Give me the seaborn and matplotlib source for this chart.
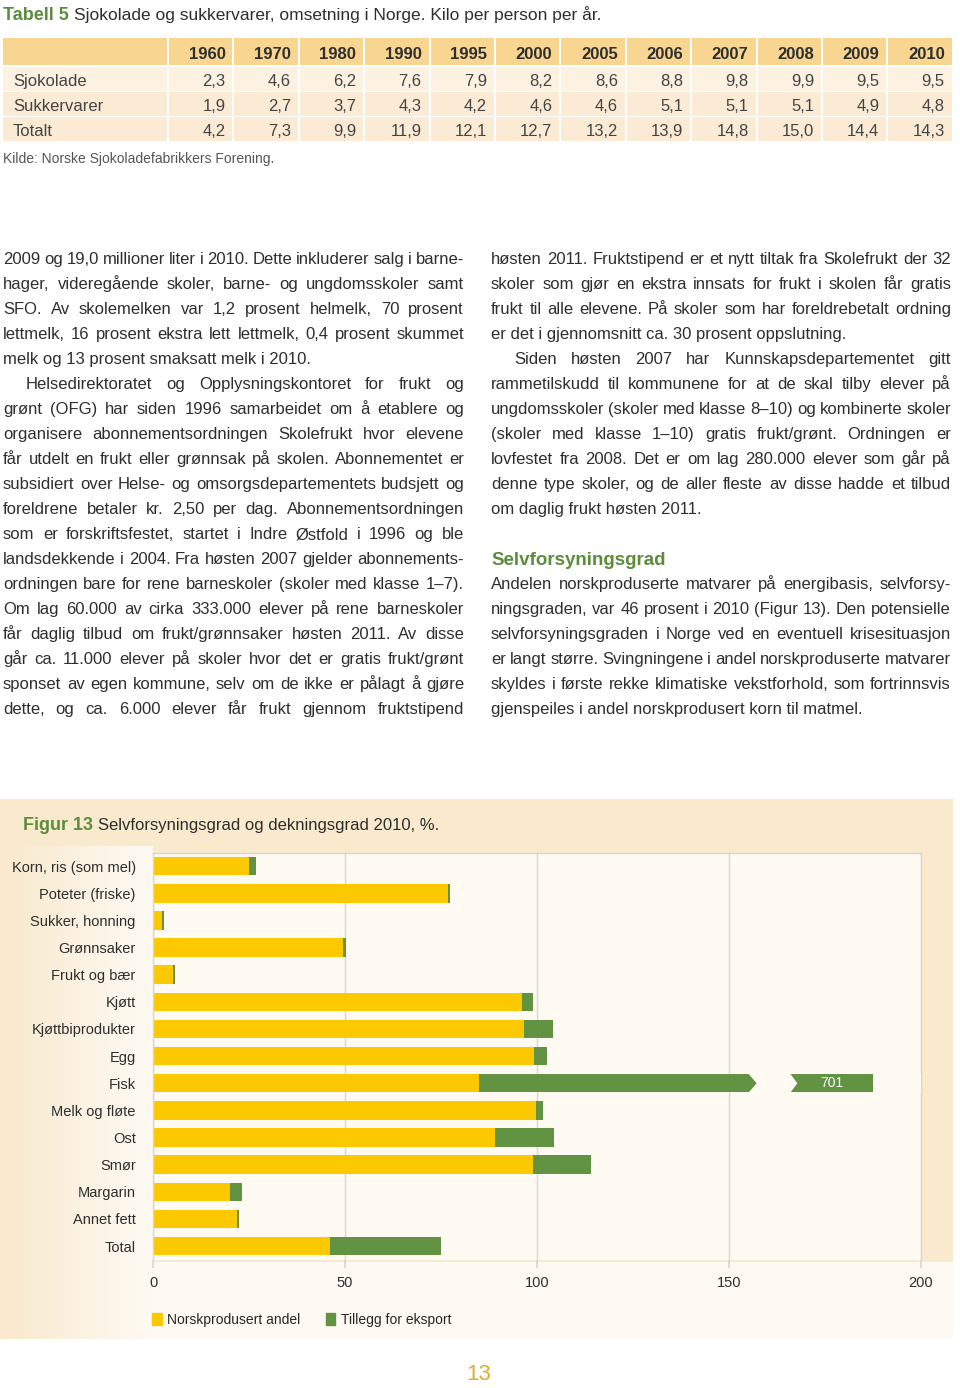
import numpy as np
import pandas as pd
import matplotlib
matplotlib.use('Agg')
import matplotlib.pyplot as plt
from matplotlib.patches import Rectangle, Polygon, Patch
import seaborn as sns

# Tabell 5 data
years = ['1960', '1970', '1980', '1990', '1995', '2000', '2005', '2006',
         '2007', '2008', '2009', '2010']
sjokolade = ['2,3', '4,6', '6,2', '7,6', '7,9', '8,2', '8,6', '8,8', '9,8', '9,9', '9,5', '9,5']
sukkervarer = ['1,9', '2,7', '3,7', '4,3', '4,2', '4,6', '4,6', '5,1', '5,1', '5,1', '4,9', '4,8']
totalt = ['4,2', '7,3', '9,9', '11,9', '12,1', '12,7', '13,2', '13,9', '14,8', '15,0', '14,4', '14,3']
table_rows = ['Sjokolade', 'Sukkervarer', 'Totalt']

# Figur 13 data
kategorier = ['Korn, ris (som mel)', 'Poteter (friske)', 'Sukker, honning', 'Grønnsaker',
              'Frukt og bær', 'Kjøtt', 'Kjøttbiprodukter', 'Egg', 'Fisk', 'Melk og fløte',
              'Ost', 'Smør', 'Margarin', 'Annet fett', 'Total']
norsk = [25, 76.8, 2.3, 49.5, 5.2, 96, 96.5, 99.2, 85, 99.8, 89, 99, 20, 22, 46]
eksport = [1.8, 0.5, 0.5, 0.7, 0.5, 3, 7.7, 3.3, 616, 1.8, 15.4, 15, 3.3, 0.5, 29]

YELLOW = '#fcc900'
GREEN = '#619343'
GREEN_TXT = '#5c8c3c'
BEIGE = '#f9e9cd'
PLOTBG = '#fffaf2'
TXT = '#2e2e2e'

W, H, DPI = 960, 1388, 100

sns.set_theme(style='white')
plt.rcParams['font.family'] = ['Liberation Sans', 'DejaVu Sans']

fig = plt.figure(figsize=(W / DPI, H / DPI), dpi=DPI)
fig.patch.set_facecolor('white')

# background layer in pixel coordinates
bg = fig.add_axes([0, 0, 1, 1], zorder=-5)
bg.set_xlim(0, W)
bg.set_ylim(H, 0)
bg.axis('off')
renderer = fig.canvas.get_renderer()


def txt(x, y, s, **kw):
    kw.setdefault('color', TXT)
    kw.setdefault('fontsize', 12)
    kw.setdefault('va', 'baseline')
    return bg.text(x, y, s, **kw)


def width(t):
    return t.get_window_extent(renderer).width


# ---- Tabell 5 ----
t1 = txt(3, 20, 'Tabell 5', fontsize=13, fontweight='bold', color=GREEN_TXT)
txt(3 + width(t1) + 5, 20, 'Sjokolade og sukkervarer, omsetning i Norge. Kilo per person per år.',
    fontsize=12.5)

col0, colw = 168, 65.4
bg.add_patch(Rectangle((3, 38), col0 - 4, 27, color='#f8d591', lw=0))
for k in range(len(years)):
    x = col0 + k * colw
    bg.add_patch(Rectangle((x + 1, 38), colw - 2, 27, color='#f8d591', lw=0))
    txt(x + colw - 8, 59, years[k], ha='right', fontweight='bold', fontsize=12)
row_cols = ['#fdf1e1', '#fcebd4', '#fcebd4']
for r, (name, vals) in enumerate(zip(table_rows, [sjokolade, sukkervarer, totalt])):
    y0 = 67 + r * 25
    bg.add_patch(Rectangle((3, y0), col0 - 4, 23.5, color=row_cols[r], lw=0))
    txt(13, y0 + 19, name, color='#444444')
    for k, v in enumerate(vals):
        x = col0 + k * colw
        bg.add_patch(Rectangle((x + 1, y0), colw - 2, 23.5, color=row_cols[r], lw=0))
        txt(x + colw - 8, y0 + 19, v, ha='right', color='#444444')
txt(3, 163, 'Kilde: Norske Sjokoladefabrikkers Forening.', fontsize=10, color='#555555')

# ---- body text ----
left_lines = [
    ('2009 og 19,0 millioner liter i 2010. Dette inkluderer salg i barne-', True, 0),
    ('hager, videregående skoler, barne- og ungdomsskoler samt', True, 0),
    ('SFO. Av skolemelken var 1,2 prosent helmelk, 70 prosent', True, 0),
    ('lettmelk, 16 prosent ekstra lett lettmelk, 0,4 prosent skummet', True, 0),
    ('melk og 13 prosent smaksatt melk i 2010.', False, 0),
    ('Helsedirektoratet og Opplysningskontoret for frukt og', True, 23),
    ('grønt (OFG) har siden 1996 samarbeidet om å etablere og', True, 0),
    ('organisere abonnementsordningen Skolefrukt hvor elevene', True, 0),
    ('får utdelt en frukt eller grønnsak på skolen. Abonnementet er', True, 0),
    ('subsidiert over Helse- og omsorgsdepartementets budsjett og', True, 0),
    ('foreldrene betaler kr. 2,50 per dag. Abonnementsordningen', True, 0),
    ('som er forskriftsfestet, startet i Indre Østfold i 1996 og ble', True, 0),
    ('landsdekkende i 2004. Fra høsten 2007 gjelder abonnements-', True, 0),
    ('ordningen bare for rene barneskoler (skoler med klasse 1–7).', True, 0),
    ('Om lag 60.000 av cirka 333.000 elever på rene barneskoler', True, 0),
    ('får daglig tilbud om frukt/grønnsaker høsten 2011. Av disse', True, 0),
    ('går ca. 11.000 elever på skoler hvor det er gratis frukt/grønt', True, 0),
    ('sponset av egen kommune, selv om de ikke er pålagt å gjøre', True, 0),
    ('dette, og ca. 6.000 elever får frukt gjennom fruktstipend', True, 0),
]
right_lines = [
    ('høsten 2011. Fruktstipend er et nytt tiltak fra Skolefrukt der 32', True, 0),
    ('skoler som gjør en ekstra innsats for frukt i skolen får gratis', True, 0),
    ('frukt til alle elevene. På skoler som har foreldrebetalt ordning', True, 0),
    ('er det i gjennomsnitt ca. 30 prosent oppslutning.', False, 0),
    ('Siden høsten 2007 har Kunnskapsdepartementet gitt', True, 23),
    ('rammetilskudd til kommunene for at de skal tilby elever på', True, 0),
    ('ungdomsskoler (skoler med klasse 8–10) og kombinerte skoler', True, 0),
    ('(skoler med klasse 1–10) gratis frukt/grønt. Ordningen er', True, 0),
    ('lovfestet fra 2008. Det er om lag 280.000 elever som går på', True, 0),
    ('denne type skoler, og de aller fleste av disse hadde et tilbud', True, 0),
    ('om daglig frukt høsten 2011.', False, 0),
    (None, False, 0),
    (None, False, 0),
    ('Andelen norskproduserte matvarer på energibasis, selvforsy-', True, 0),
    ('ningsgraden, var 46 prosent i 2010 (Figur 13). Den potensielle', True, 0),
    ('selvforsyningsgraden i Norge ved en eventuell krisesituasjon', True, 0),
    ('er langt større. Svingningene i andel norskproduserte matvarer', True, 0),
    ('skyldes i første rekke klimatiske vekstforhold, som fortrinnsvis', True, 0),
    ('gjenspeiles i andel norskprodusert korn til matmel.', False, 0),
]


def column(lines, x0, x1):
    for i, (line, just, indent) in enumerate(lines):
        if line is None:
            continue
        y = 264 + 25 * i
        start = x0 + indent
        if not just:
            txt(start, y, line)
            continue
        words = line.split(' ')
        ts = [txt(0, y, w) for w in words]
        ws = [width(t) for t in ts]
        gap = max((x1 - start - sum(ws)) / (len(words) - 1), 2.5)
        x = start
        for t, w in zip(ts, ws):
            t.set_x(x)
            x += w + gap


column(left_lines, 3, 464)
column(right_lines, 491, 951)
txt(491, 565, 'Selvforsyningsgrad', fontsize=13.5, fontweight='bold', color=GREEN_TXT)

# ---- Figur 13 panel ----
bg.add_patch(Rectangle((0, 799), 953, 540, color=BEIGE, lw=0))
grad = np.linspace(0, 1, 64)
c0 = np.array(matplotlib.colors.to_rgb(BEIGE))
c1 = np.array(matplotlib.colors.to_rgb('#fefaf3'))
img = c0[None, :] * (1 - grad[:, None]) + c1[None, :] * grad[:, None]
bg.imshow(img[None, :, :], extent=(0, 153, 1262, 846), aspect='auto', zorder=1)
bg.imshow(img[None, :, :], extent=(0, 153, 1339, 1262), aspect='auto', zorder=1)
bg.add_patch(Rectangle((153, 1262), 800, 77, color='#fefaf3', lw=0, zorder=1))
f1 = txt(23, 830, 'Figur 13', fontsize=13, fontweight='bold', color=GREEN_TXT)
txt(23 + width(f1) + 5, 830, 'Selvforsyningsgrad og dekningsgrad 2010, %.', fontsize=12)
txt(479, 1380, '13', fontsize=16, color='#d8ae35', ha='center')

ax = fig.add_axes([153 / W, 1 - 1259.6 / H, 768 / W, 407 / H], zorder=2)
ax.set_facecolor(PLOTBG)
df = pd.DataFrame({'kategori': kategorier, 'norsk': norsk,
                   'total': np.add(norsk, eksport)})
sns.barplot(data=df, y='kategori', x='total', color=GREEN, saturation=1, width=0.68,
            orient='h', ax=ax, linewidth=0)
sns.barplot(data=df, y='kategori', x='norsk', color=YELLOW, saturation=1, width=0.68,
            orient='h', ax=ax, linewidth=0)
ax.set_xlim(0, 200)
ax.set_ylim(len(kategorier) - 0.5, -0.5)
ax.set_xticks([0, 50, 100, 150, 200])
ax.set_xlabel('')
ax.set_ylabel('')
ax.set_axisbelow(True)
ax.grid(axis='x', color='#d9d6d0', lw=1)
ax.grid(axis='y', visible=False)
for s in ax.spines.values():
    s.set_color('#d9d6d0')
    s.set_linewidth(1)
ax.spines['bottom'].set_visible(False)
ax.tick_params(axis='x', bottom=True, length=6, color='#d9d6d0', pad=6, labelsize=10.5,
               labelcolor=TXT)
ax.tick_params(axis='y', left=False, pad=6.5, labelsize=10.5, labelcolor=TXT)

# axis break for Fisk (value beyond the scale)
fi = kategorier.index('Fisk')
fisk_total = norsk[fi] + eksport[fi]
hh = 0.36
ax.add_patch(Polygon([(155, fi - hh), (157.2, fi), (155, fi + hh), (165.9, fi + hh),
                      (167.8, fi), (165.9, fi - hh)], closed=True, color=PLOTBG, lw=0, zorder=3))
ax.add_patch(Rectangle((187.5, fi - hh), 15, 2 * hh, color=PLOTBG, lw=0, zorder=3))
ax.text((166 + 187.5) / 2, fi, f'{fisk_total:.0f}', color='white', ha='center', va='center',
        fontsize=10, zorder=4)

ax.legend(handles=[Patch(color=YELLOW, label='Norskprodusert andel'),
                   Patch(color=GREEN, label='Tillegg for eksport')],
          ncol=2, loc='upper left', bbox_to_anchor=(152 / W, 1 - 1313 / H),
          bbox_transform=fig.transFigure, frameon=False, fontsize=10,
          handlelength=0.7, handleheight=1.0, handletextpad=0.4, columnspacing=1.8,
          borderaxespad=0, borderpad=0)

fig.savefig('out.png', dpi=DPI)
